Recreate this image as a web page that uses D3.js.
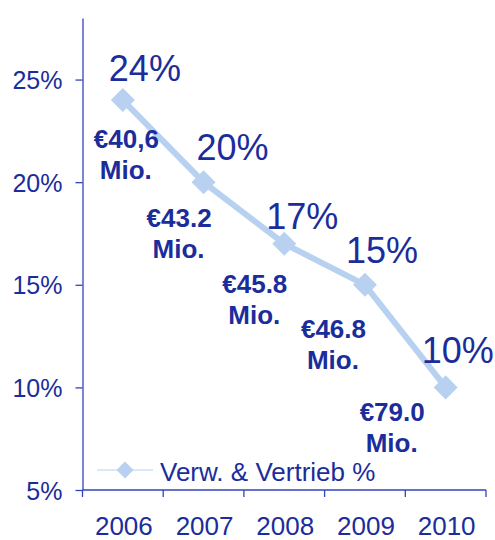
<!DOCTYPE html>
<html>
<head>
<meta charset="utf-8">
<script src="https://cdn.jsdelivr.net/npm/d3@7"></script>
<style>
  body { margin: 0; background: #fff; }
  text { font-family: "Liberation Sans", Arial, sans-serif; }
</style>
</head>
<body>
<script>
// data
const years = ["2006", "2007", "2008", "2009", "2010"];
const shares = [24, 20, 17, 15, 10];
const amounts = ["€40,6", "€43.2", "€45.8", "€46.8", "€79.0"];
const yTicks = [5, 10, 15, 20, 25];
const seriesName = "Verw. & Vertrieb %";

// layout (label offsets are relative to each point)
const pctOffsets = [[-14, -19], [-7, -22], [-18, -15], [-19, -22], [-24, -24]];
const amtOffsets = [[-29, 48], [-57, 45], [-62, 49], [-64, 53], [-86, 34]];

const width = 495;
const height = 540;
const textColor = "#1b2d9b";
const axisColor = "#3344bb";
const lineColor = "#b9d1f1";

let svg = d3.select("body")
    .append("svg")
    .attr("width", width)
    .attr("height", height);

let x = d3.scaleBand()
    .domain(years)
    .range([82.5, 486]);

let y = d3.scaleLinear()
    .domain([5, 28])
    .range([490, 18]);

// y axis
let yAxis = svg.append("g")
    .attr("transform", "translate(82.5,0)")
    .call(d3.axisLeft(y)
        .tickValues(yTicks)
        .tickSize(7)
        .tickSizeOuter(0)
        .tickPadding(13)
        .tickFormat(function(d) { return d + "%"; }));
yAxis.selectAll("path, line").attr("stroke", axisColor).attr("stroke-width", 1.3);
yAxis.selectAll("text")
    .attr("fill", textColor)
    .style("font-size", "25px")
    .attr("dy", "0.36em");

// x axis: line plus ticks on the category boundaries
let xAxis = svg.append("g")
    .attr("transform", "translate(0,490)");
xAxis.append("line")
    .attr("x1", x.range()[0])
    .attr("x2", x.range()[1])
    .attr("stroke", axisColor)
    .attr("stroke-width", 1.3);
let bounds = years.map(function(d) { return x(d); }).concat([x.range()[1]]);
xAxis.selectAll(".bound")
    .data(bounds)
    .enter()
    .append("line")
    .attr("class", "bound")
    .attr("x1", function(d) { return d; })
    .attr("x2", function(d) { return d; })
    .attr("y1", 0)
    .attr("y2", 7)
    .attr("stroke", axisColor)
    .attr("stroke-width", 1.3);
xAxis.selectAll(".year")
    .data(years)
    .enter()
    .append("text")
    .attr("class", "year")
    .attr("x", function(d) { return x(d) + x.bandwidth() / 2 + 1; })
    .attr("y", 45)
    .attr("text-anchor", "middle")
    .attr("fill", textColor)
    .style("font-size", "26px")
    .text(function(d) { return d; });

let points = years.map(function(d, i) {
    return { year: d, value: shares[i], amount: amounts[i], i: i };
});
let px = function(d) { return x(d.year) + x.bandwidth() / 2; };
let py = function(d) { return y(d.value); };

// the line
svg.append("path")
    .datum(points)
    .attr("fill", "none")
    .attr("stroke", lineColor)
    .attr("stroke-width", 6)
    .attr("d", d3.line().x(px).y(py));

// diamond markers
svg.selectAll(".marker")
    .data(points)
    .enter()
    .append("path")
    .attr("class", "marker")
    .attr("d", d3.symbol().type(d3.symbolSquare).size(289))
    .attr("fill", lineColor)
    .attr("transform", function(d) {
        return "translate(" + px(d) + "," + py(d) + ") rotate(45)";
    });

// percentage labels
svg.selectAll(".pct")
    .data(points)
    .enter()
    .append("text")
    .attr("class", "pct")
    .attr("x", function(d) { return px(d) + pctOffsets[d.i][0]; })
    .attr("y", function(d) { return py(d) + pctOffsets[d.i][1]; })
    .attr("fill", textColor)
    .style("font-size", "36px")
    .text(function(d) { return d.value + "%"; });

// amount labels
let amt = svg.selectAll(".amt")
    .data(points)
    .enter()
    .append("text")
    .attr("class", "amt")
    .attr("fill", textColor)
    .style("font-size", "26px")
    .style("font-weight", "bold")
    .attr("transform", function(d) {
        return "translate(" + (px(d) + amtOffsets[d.i][0]) + "," + (py(d) + amtOffsets[d.i][1]) + ")";
    });
amt.append("tspan")
    .attr("x", 0)
    .attr("y", 0)
    .text(function(d) { return d.amount; });
amt.append("tspan")
    .attr("x", 6)
    .attr("y", 31)
    .text("Mio.");

// legend
let legend = svg.append("g")
    .attr("transform", "translate(97,470)");
legend.append("line")
    .attr("x1", 0)
    .attr("x2", 56)
    .attr("stroke", lineColor)
    .attr("stroke-width", 1.2);
legend.append("path")
    .attr("d", d3.symbol().type(d3.symbolSquare).size(144))
    .attr("fill", lineColor)
    .attr("transform", "translate(28,0) rotate(45)");
legend.append("text")
    .attr("x", 63)
    .attr("y", 11)
    .attr("fill", textColor)
    .style("font-size", "26px")
    .text(seriesName);
</script>
</body>
</html>
